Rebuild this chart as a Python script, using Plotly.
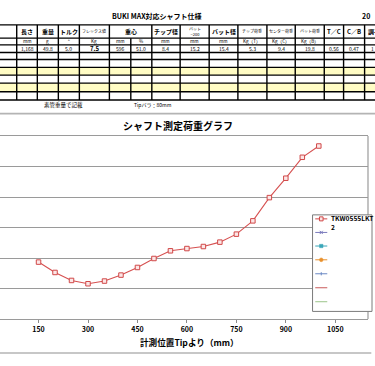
import plotly.graph_objects as go

# ---------------- data ----------------
positions = [150, 200, 250, 300, 350, 400, 450, 500, 550, 600,
             650, 700, 750, 800, 850, 900, 950, 1000]
load = [9.33, 7.63, 6.32, 5.78, 6.22, 7.20, 8.45, 9.92, 11.18, 11.55,
        11.88, 12.60, 13.91, 16.09, 19.90, 23.08, 26.51, 28.36]
series_name = "TKW0555LKT<br>2"
x_ticks = [150, 300, 450, 600, 750, 900, 1050]

spec_headers = ["", "長さ", "重量", "トルク", "フレックス値", "重心", "", "チップ径",
                "バット<br>−200", "バット径", "チップ荷重", "センター荷重", "バット荷重",
                "T／C", "C／B", "調子"]
spec_units = ["", "mm", "g", "°", "Kg", "mm", "%", "mm", "mm", "mm",
              "Kg（T）", "Kg（C）", "Kg（B）", "", "", ""]
spec_values = ["", "1,168", "49.8", "5.0", "7.5", "596", "51.0", "8.4", "15.2",
               "15.4", "5.3", "9.4", "19.8", "0.56", "0.47", "1"]

sheet_title = "BUKI MAX対応シャフト仕様"
note_left = "素管重量で記載"
note_right = "Tipバラ：80mm"
chart_title = "シャフト測定荷重グラフ"
x_title = "計測位置Tipより（mm）"

# ---------------- layout geometry ----------------
W, H = 375, 366
L, R, T, B = 0, 7.3, 136, 46.7
PW = W - L - R
PH = H - T - B
FONT = "Noto Sans CJK JP"


def px(x):
    return (x - L) / PW


def py(y):
    return (H - B - y) / PH


shapes = []
annos = []


def line(x0, y0, x1, y1, color="black", width=1.4):
    shapes.append(dict(type="line", xref="paper", yref="paper",
                       x0=px(x0), y0=py(y0), x1=px(x1), y1=py(y1),
                       line=dict(color=color, width=width), layer="above"))


def rect(x0, y0, x1, y1, fill, color=None, width=0, layer="below"):
    shapes.append(dict(type="rect", xref="paper", yref="paper",
                       x0=px(x0), y0=py(y0), x1=px(x1), y1=py(y1),
                       fillcolor=fill,
                       line=dict(color=color or fill, width=width), layer=layer))


def text(x, y, s, size=6, bold=False, xanchor="center", color="black", align="center"):
    annos.append(dict(xref="paper", yref="paper", x=px(x), y=py(y), text=s,
                      showarrow=False, xanchor=xanchor, yanchor="middle", align=align,
                      font=dict(family=FONT, size=size, color=color,
                                weight="bold" if bold else "normal")))


# ---------------- spec table ----------------
col_x = [0, 16.7, 37.3, 58.3, 79.3, 109.3, 130.7, 151.7, 180, 209, 237.7,
         266.7, 295, 324, 343.3, 364.3, 395]
row_y = [24.7, 38, 44.7, 52.3, 59.3, 67.3, 75, 83, 91.7, 100]

# yellow rows
for i in range(4, len(row_y) - 1):
    if (i - 4) % 2 == 1:
        rect(0, row_y[i], W, row_y[i + 1], "#fffcc4")

for yv in row_y:
    line(0, yv, W, yv)
for j, xv in enumerate(col_x[1:-1], start=1):
    top = row_y[1] if j == 6 else row_y[0]
    line(xv, top, xv, row_y[-1])

small_headers = {"フレックス値", "チップ荷重", "センター荷重", "バット荷重", "バット<br>−200"}
for j in range(1, len(col_x) - 1):
    cx = (col_x[j] + col_x[j + 1]) / 2
    h = spec_headers[j]
    if j == 5:
        cx = (col_x[5] + col_x[7]) / 2
    if j == len(col_x) - 2:
        if h:
            text(365.5, 31.3, h, size=6, bold=True, xanchor="left")
        if spec_values[j]:
            text(368.5, 48.5, spec_values[j], size=5, xanchor="left")
        continue
    if h:
        if h in small_headers:
            text(cx, 31.3, h, size=4, bold=False)
        else:
            text(cx, 31.3, h, size=6, bold=True)
    if spec_units[j]:
        text(cx if j != 5 else (col_x[5] + col_x[6]) / 2, 41.3, spec_units[j], size=4.6)
    if spec_values[j]:
        vx = (col_x[j] + col_x[j + 1]) / 2
        if spec_headers[j] == "フレックス値":
            text(vx, 48.6, spec_values[j], size=6, bold=True)
        else:
            text(vx, 48.6, spec_values[j], size=5)

text(156.5, 15.5, sheet_title, size=7, bold=True)
text(360, 15.5, "20", size=7, bold=True, xanchor="left")
text(63.5, 104.5, note_left, size=5.5)
text(152.5, 105, note_right, size=5)

# ---------------- chart frame ----------------
line(0, 113.6, W, 113.6, color="#b4b4b4", width=1.6)
line(0, 353.3, 371, 353.3, color="#b4b4b4", width=1.6)
text(178, 125, chart_title, size=10, bold=True)
text(189, 342.3, x_title, size=8.6, bold=True)

# right border of the plot area
line(W - R, T, W - R, H - B, color="#9a9a9a", width=1.2)

# ---------------- legend (drawn) ----------------
rect(312.3, 215, 371.7, 311.7, "white", color="#7a7a7a", width=1, layer="above")
leg_y = [219, 232.6, 246.2, 260, 274, 288, 302]
leg_col = ["#d04848", "#7b7bbd", "#3aa6b8", "#e8902c", "#6a88c4", "#c85a5a", "#9cc48a"]
for k, (yy, cc) in enumerate(zip(leg_y, leg_col)):
    line(315, yy, 327, yy, color=cc, width=1)
    if k == 0:
        shapes.append(dict(type="rect", xref="paper", yref="paper",
                           x0=px(319.2), y0=py(221), x1=px(322.8), y1=py(217),
                           fillcolor="#fbe4e4", line=dict(color=cc, width=1), layer="above"))
    elif k == 1:
        line(319.5, yy - 1.6, 322.5, yy + 1.6, color=cc, width=1)
        line(319.5, yy + 1.6, 322.5, yy - 1.6, color=cc, width=1)
    elif k == 2:
        shapes.append(dict(type="rect", xref="paper", yref="paper",
                           x0=px(319.3), y0=py(yy + 1.7), x1=px(322.7), y1=py(yy - 1.7),
                           fillcolor=cc, line=dict(color=cc, width=0.5), layer="above"))
    elif k == 3:
        shapes.append(dict(type="circle", xref="paper", yref="paper",
                           x0=px(319.2), y0=py(yy + 1.9), x1=px(322.8), y1=py(yy - 1.9),
                           fillcolor=cc, line=dict(color=cc, width=0.5), layer="above"))
    elif k == 4:
        line(321, yy - 1.6, 321, yy + 1.6, color=cc, width=1)
text(329, 223, series_name, size=6.6, bold=True, xanchor="left", align="left")

# ---------------- figure ----------------
fig = go.Figure()
fig.add_trace(go.Scatter(
    x=positions, y=load, mode="lines+markers", name=series_name,
    line=dict(color="#d65050", width=1.1),
    marker=dict(symbol="square", size=4.5, color="#fce6e6",
                line=dict(color="#d04848", width=1)),
    showlegend=False, cliponaxis=False))

fig.update_layout(
    width=W, height=H,
    margin=dict(l=L, r=R, t=T, b=B, pad=0),
    paper_bgcolor="white", plot_bgcolor="white",
    font=dict(family=FONT, color="black"),
    shapes=shapes, annotations=annos, showlegend=False,
    xaxis=dict(range=[33.1, 1149.2], tickvals=x_ticks, ticks="outside",
               ticklen=3, tickcolor="#8a8a8a", showline=True, linecolor="#9a9a9a",
               linewidth=1.2, mirror=True, showgrid=False, zeroline=False,
               tickfont=dict(family=FONT, size=7, weight="bold", color="black")),
    yaxis=dict(range=[0, 30], dtick=5, showgrid=True, gridcolor="#9a9a9a",
               gridwidth=1, showticklabels=False, zeroline=False, showline=False,
               ticks=""),
)

fig.write_html(
    "out.html",
    config={"displayModeBar": False},
    post_script="document.body.style.margin='0';document.body.style.overflow='hidden';",
)
